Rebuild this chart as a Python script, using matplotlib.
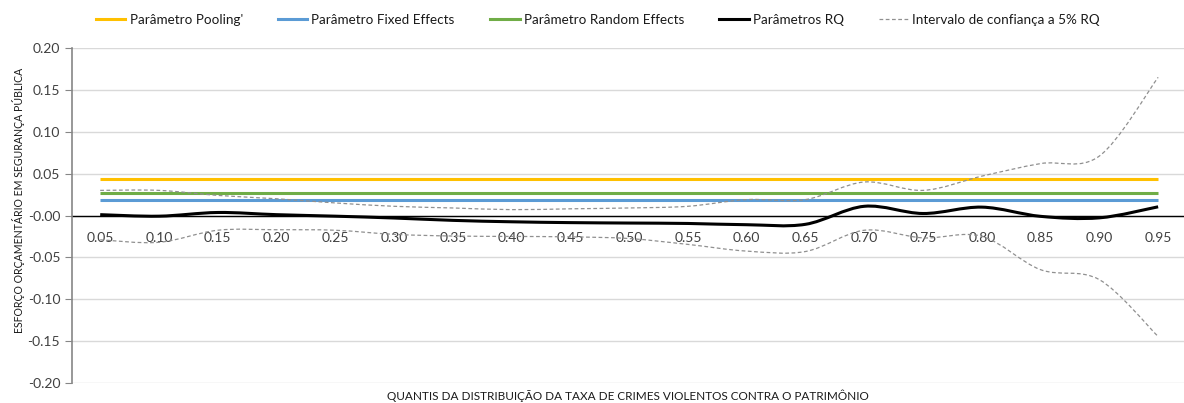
import numpy as np
import matplotlib
matplotlib.use('Agg')
import matplotlib.pyplot as plt
from matplotlib.path import Path
from matplotlib.patches import PathPatch
from matplotlib.lines import Line2D

plt.rcParams['font.family'] = ['Lato', 'DejaVu Sans']

# quantis e estimativas
quantis = ['0.05', '0.10', '0.15', '0.20', '0.25', '0.30', '0.35', '0.40', '0.45', '0.50',
           '0.55', '0.60', '0.65', '0.70', '0.75', '0.80', '0.85', '0.90', '0.95']
pooling = 0.044
fixed_effects = 0.0183
random_effects = 0.0263
rq = [0.001, -0.0008, 0.0036, 0.001, -0.0008, -0.003, -0.0058, -0.0075, -0.0085, -0.009,
      -0.0095, -0.0110, -0.0105, 0.0110, 0.0024, 0.0100, -0.0010, -0.0028, 0.0104]
ic_sup = [0.030, 0.030, 0.024, 0.020, 0.015, 0.011, 0.009, 0.007, 0.008, 0.009,
          0.011, 0.019, 0.019, 0.040, 0.030, 0.047, 0.062, 0.071, 0.165]
ic_inf = [-0.029, -0.032, -0.0176, -0.017, -0.0176, -0.0225, -0.0245, -0.025, -0.0255, -0.0275,
          -0.0345, -0.0425, -0.0430, -0.0176, -0.0267, -0.0248, -0.0647, -0.0766, -0.1445]

x = np.arange(len(quantis))


def smooth_path(xs, ys):
    # curva suavizada (Catmull-Rom convertida em Bezier cubica)
    pts = np.column_stack([xs, ys]).astype(float)
    verts = [pts[0]]
    codes = [Path.MOVETO]
    n = len(pts)
    for i in range(n - 1):
        p0 = pts[max(i - 1, 0)]
        p1 = pts[i]
        p2 = pts[i + 1]
        p3 = pts[min(i + 2, n - 1)]
        c1 = p1 + (p2 - p0) / 6.0
        c2 = p2 - (p3 - p1) / 6.0
        verts += [c1, c2, p2]
        codes += [Path.CURVE4] * 3
    return Path(verts, codes)


fig = plt.figure(figsize=(11.84, 4.03), dpi=100)
ax = fig.add_axes([0.0608, 0.0496, 0.9392, 0.8313])

ax.set_xlim(-0.48, 18.44)
ax.set_ylim(-0.20, 0.20)
ax.set_yticks(np.arange(-0.20, 0.201, 0.05))
ax.set_yticklabels(['%.2f' % v for v in np.arange(-0.20, 0.201, 0.05)])
ax.yaxis.grid(True, color='#d9d9d9', linewidth=1.0)
ax.set_axisbelow(True)

for s in ['top', 'right']:
    ax.spines[s].set_visible(False)
ax.spines['left'].set_color('#868686')
ax.spines['left'].set_linewidth(1.2)
ax.spines['bottom'].set_position(('data', 0))
ax.spines['bottom'].set_color('black')
ax.spines['bottom'].set_linewidth(1.0)
ax.spines['bottom'].set_zorder(1)

ax.set_xticks(x)
ax.set_xticklabels(quantis)
ax.tick_params(axis='x', length=0, pad=12, labelsize=10, labelcolor='#404040')
ax.tick_params(axis='y', length=5, color='#868686', labelsize=10, labelcolor='#404040')

ax.plot(x, [pooling] * len(x), color='#FFC000', linewidth=2.2, solid_capstyle='butt', zorder=3)
ax.plot(x, [fixed_effects] * len(x), color='#5B9BD5', linewidth=2.2, solid_capstyle='butt', zorder=3)
ax.plot(x, [random_effects] * len(x), color='#70AD47', linewidth=2.2, solid_capstyle='butt', zorder=3)

ax.add_patch(PathPatch(smooth_path(x, rq), facecolor='none', edgecolor='black', linewidth=2.2, zorder=4))
ax.add_patch(PathPatch(smooth_path(x, ic_sup), facecolor='none', edgecolor='#909090',
                       linewidth=0.9, linestyle=(0, (3, 2)), zorder=4))
ax.add_patch(PathPatch(smooth_path(x, ic_inf), facecolor='none', edgecolor='#909090',
                       linewidth=0.9, linestyle=(0, (3, 2)), zorder=4))

fig.text(0.016, 0.504, 'ESFORÇO ORÇAMENTÁRIO EM SEGURANÇA PÚBLICA', rotation=90,
         ha='center', va='center', fontsize=7.6, color='#1a1a1a')
fig.text(0.53, 0.018, 'QUANTIS DA DISTRIBUIÇÃO DA TAXA DE CRIMES VIOLENTOS CONTRA O PATRIMÔNIO',
         ha='center', va='center', fontsize=8.5, color='#1a1a1a')

handles = [
    Line2D([], [], color='#FFC000', linewidth=2.2),
    Line2D([], [], color='#5B9BD5', linewidth=2.2),
    Line2D([], [], color='#70AD47', linewidth=2.2),
    Line2D([], [], color='black', linewidth=2.2),
    Line2D([], [], color='#909090', linewidth=0.9, linestyle=(0, (3, 2))),
]
labels = ["Parâmetro Pooling'", 'Parâmetro Fixed Effects', 'Parâmetro Random Effects',
          'Parâmetros RQ', 'Intervalo de confiança a 5% RQ']
fig.legend(handles, labels, loc='center', bbox_to_anchor=(0.505, 0.95), ncol=5, frameon=False,
           fontsize=9.7, handlelength=2.2, handletextpad=0.3, columnspacing=2.6,
           labelcolor='#1a1a1a')

fig.savefig('out.png', dpi=100)
